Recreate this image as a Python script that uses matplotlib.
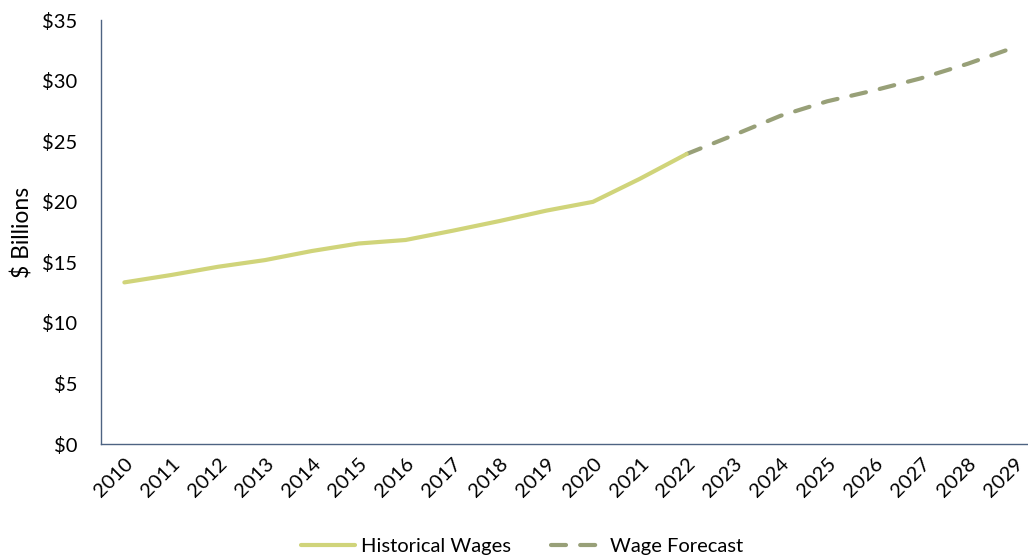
import matplotlib
matplotlib.use("Agg")
import matplotlib.pyplot as plt
from matplotlib.ticker import FuncFormatter

plt.rcParams['font.family'] = ['Lato', 'DejaVu Sans']

years = [str(y) for y in range(2010, 2030)]
hist_years = years[:13]
hist_wages = [13.35, 13.96, 14.64, 15.19, 15.94, 16.56, 16.85, 17.61, 18.41, 19.27, 20.0, 21.9, 23.95]
fc_years = years[12:]
fc_wages = [23.95, 25.5, 27.1, 28.3, 29.2, 30.2, 31.4, 32.76]

hist_color = '#d0d47a'
fc_color = '#98a078'
spine_color = '#4d6382'


def main():
    fig = plt.figure(figsize=(10.28, 5.6), dpi=100)
    ax = fig.add_axes([0.0982, 0.207, 0.902, 0.757])

    xi = {y: i for i, y in enumerate(years)}
    ax.plot([xi[y] for y in hist_years], hist_wages, color=hist_color, lw=3,
            solid_capstyle='round', label='Historical Wages', zorder=3)
    ax.plot([xi[y] for y in fc_years], fc_wages, color=fc_color, lw=3,
            dashes=(3.6, 3.4), dash_capstyle='round', label='Wage Forecast', zorder=2)

    ax.set_xlim(-0.5, 19.29)
    ax.set_ylim(0, 35)
    ax.set_yticks(range(0, 36, 5))
    ax.yaxis.set_major_formatter(FuncFormatter(lambda v, p: f"${v:.0f}"))
    ax.set_xticks(range(len(years)))
    ax.set_xticklabels(years, rotation=45, ha='right', va='top', rotation_mode='anchor')
    ax.tick_params(axis='both', length=0, labelsize=14.5, colors='#000000')
    ax.tick_params(axis='y', pad=17)
    ax.tick_params(axis='x', pad=8)

    for s in ['top', 'right']:
        ax.spines[s].set_visible(False)
    for s in ['left', 'bottom']:
        ax.spines[s].set_color(spine_color)
        ax.spines[s].set_linewidth(1.0)

    ax.set_ylabel('$ Billions', fontsize=16.5, labelpad=6)

    fig.legend(loc='center', bbox_to_anchor=(0.508, 0.024), ncol=2, frameon=False,
               fontsize=14.5, handlelength=2.7, columnspacing=2.0, handletextpad=0.25)

    fig.savefig('out.png', dpi=100)


if __name__ == "__main__":
    main()
